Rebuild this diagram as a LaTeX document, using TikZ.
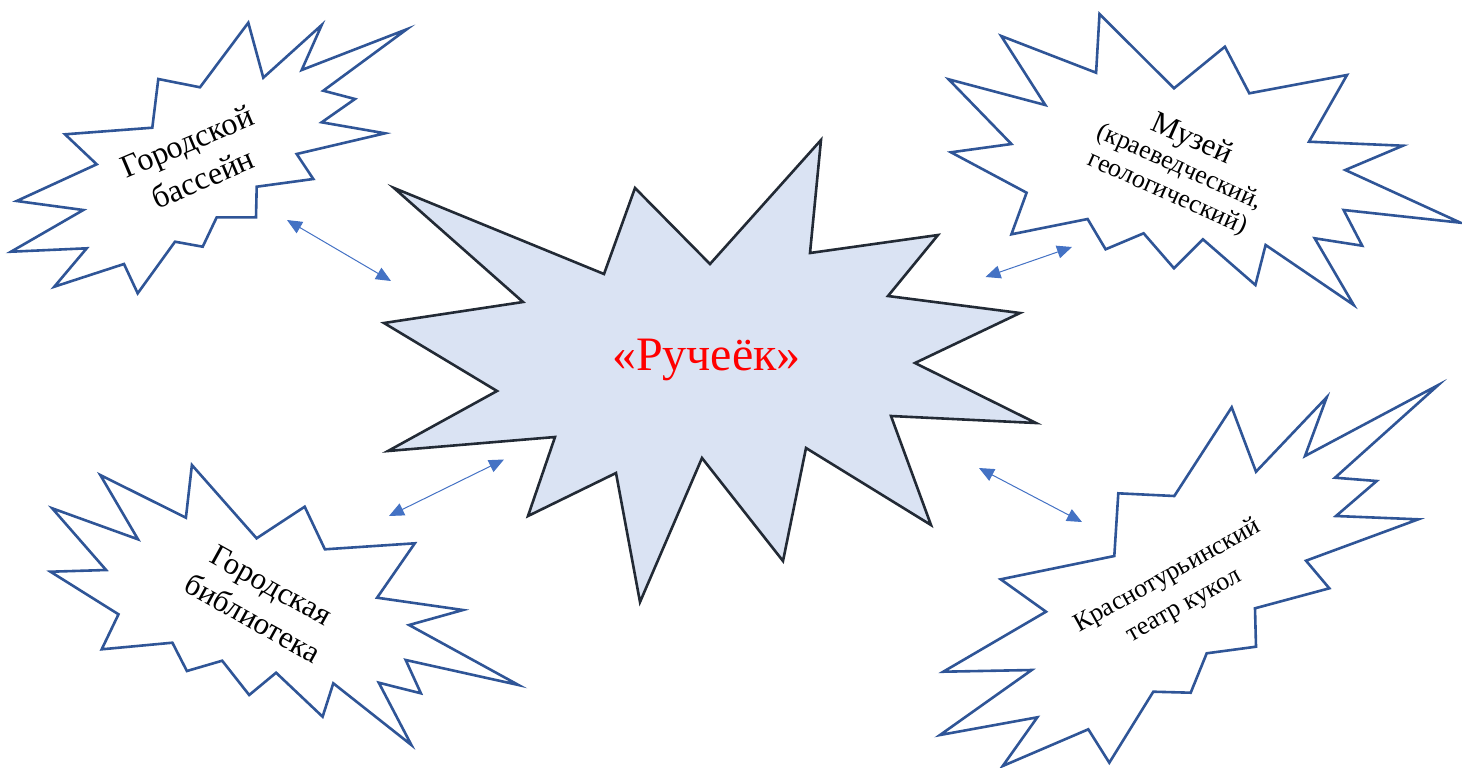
\documentclass[tikz,border=0pt]{standalone}
\usepackage{fontspec}
\setmainfont{Liberation Serif}[Ligatures=TeX]
\newfontfamily\tnr{Liberation Serif}
\usetikzlibrary{arrows.meta}
\definecolor{outblue}{HTML}{2F5597}
\definecolor{arrblue}{HTML}{4472C4}
\definecolor{centfill}{HTML}{DAE3F3}
\definecolor{centline}{HTML}{222A35}
\definecolor{textred}{HTML}{FF0000}
\tikzset{
  burst/.style={draw=outblue, line width=1.3pt, line join=miter, fill=white},
  centburst/.style={draw=centline, line width=1.3pt, line join=miter, fill=centfill},
  lbl/.style={align=center, text=black, inner sep=0pt},
  link/.style={draw=arrblue, line width=0.5pt,
    {Triangle[length=7.5pt,width=6.5pt]}-{Triangle[length=7.5pt,width=6.5pt]}},
}
\begin{document}
\begin{tikzpicture}[x=0.5pt,y=-0.5pt]
\useasboundingbox (0,0) rectangle (1462,767);

% central burst
\draw[centburst] (394,188) -- (604,274) -- (635,188) -- (710,264) -- (821,140) -- (810,253)
 -- (938,235) -- (888,296) -- (1020,313) -- (915,363) -- (1036,423) -- (891,416)
 -- (931,525) -- (806,448) -- (783,561) -- (702,458) -- (640,602) -- (616,473)
 -- (528,516) -- (555,437) -- (388,451) -- (497,391) -- (384,323) -- (523,302) -- cycle;
\node[lbl, text=textred, font=\tnr\fontsize{24}{29}\selectfont] (ruch) at (706.5,360) {«Ручеёк»};

% top-left burst
\draw[burst] (248.3,22.7) -- (263.3,77.7) -- (321.7,25) -- (301.7,70) -- (406.7,29.3)
 -- (323.3,90.7) -- (355,99) -- (321.7,122.3) -- (385,133.3) -- (296.7,154)
 -- (313.3,179) -- (256.7,186.7) -- (256,217.3) -- (216.7,217.3) -- (202.7,246.7)
 -- (175,241.7) -- (137.7,293.3) -- (124,264) -- (54.3,286.7) -- (86.7,248.3)
 -- (11,251.7) -- (83.3,210) -- (16.7,201) -- (96.7,164.3) -- (65,134.3)
 -- (152.3,127.7) -- (158.3,79) -- (200,87.3) -- cycle;
\node[lbl, rotate=23, font=\tnr\fontsize{16}{20}\selectfont] (pool) at (195,160) {Городской\\бассейн};

% top-right burst
\draw[burst] (1099.5,14) -- (1174,88.3) -- (1224.9,46.7) -- (1249.3,93.3) -- (1347,75)
 -- (1309,141.7) -- (1402.9,145.7) -- (1345.3,170) -- (1460.5,222.7) -- (1343.6,210)
 -- (1362.2,245.7) -- (1314.7,238.3) -- (1353.7,305) -- (1265.6,245) -- (1255.4,285)
 -- (1202.9,239.3) -- (1174,268.3) -- (1143.6,233.3) -- (1105.6,249.3) -- (1087.6,219)
 -- (1011.4,234.3) -- (1026.6,192.7) -- (951,152.3) -- (1011.4,144) -- (948.6,79.3)
 -- (1045.3,105) -- (1001.2,36) -- (1096.1,72.7) -- cycle;
\node[lbl, rotate=-24, font=\tnr\fontsize{13}{14.5}\selectfont] (museum) at (1180,166)
 {{\fontsize{15.5}{17}\selectfont Музей}\\(краеведческий,\\геологический)};

% bottom-left burst
\draw[burst] (191.9,465) -- (256.6,538.3) -- (304.7,506.7) -- (324.9,549.3) -- (414.8,543.3)
 -- (377.1,597.7) -- (463,610) -- (409.1,625) -- (518.5,685) -- (405.7,660)
 -- (420.9,693.3) -- (378.8,682.7) -- (411.4,745) -- (333.3,683.3) -- (322.6,716.7)
 -- (276.1,672.7) -- (249.2,695) -- (222.2,660.7) -- (186.9,671) -- (172.4,642.7)
 -- (101.7,649.3) -- (118.5,614.3) -- (50.5,571.7) -- (106.1,570) -- (52.2,508.3)
 -- (138,539.3) -- (100.3,475) -- (185.9,517.7) -- cycle;
\node[lbl, rotate=-29, font=\tnr\fontsize{15.5}{19}\selectfont] (library) at (262,602) {Городская\\библиотека};

% bottom-right burst
\draw[burst] (1231.7,407.3) -- (1256,471.7) -- (1326.7,397.3) -- (1305,456) -- (1438.3,385)
 -- (1335,477.7) -- (1376.7,481) -- (1336,516) -- (1418.3,519.3) -- (1306,560.7)
 -- (1329.3,588.3) -- (1255,608.3) -- (1256,646.7) -- (1206.7,653.3) -- (1190.7,692.7)
 -- (1153.3,691.7) -- (1109.3,762.7) -- (1088.3,729.3) -- (1002.7,766) -- (1037.3,717.3)
 -- (940,735) -- (1031.7,670) -- (943.3,671.7) -- (1046,611.7) -- (1000.7,579.3)
 -- (1114.3,556) -- (1118.3,493.3) -- (1174.3,496) -- cycle;
\node[lbl, rotate=29, font=\tnr\fontsize{13}{17}\selectfont] (theatre) at (1176,591) {Краснотурьинский\\театр кукол};

% connectors
\coordinate (a1) at (287,220);
\coordinate (b1) at (391,281);
\coordinate (a2) at (985.5,277);
\coordinate (b2) at (1072,247);
\coordinate (a3) at (504,459.5);
\coordinate (b3) at (389,516);
\coordinate (a4) at (979,468);
\coordinate (b4) at (1082,522);
\draw[link] (a1) -- (b1);
\draw[link] (a2) -- (b2);
\draw[link] (a3) -- (b3);
\draw[link] (a4) -- (b4);
\end{tikzpicture}
\end{document}
